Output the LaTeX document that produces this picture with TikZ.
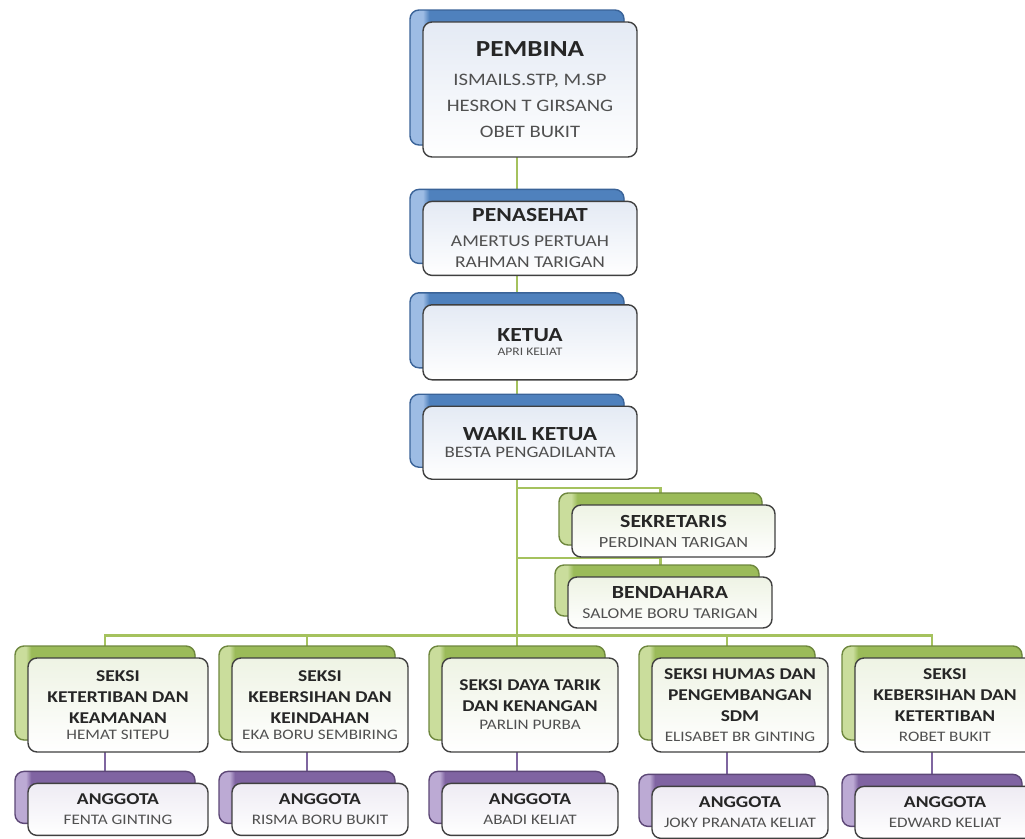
\documentclass[tikz,border=0pt]{standalone}
\usepackage{fontspec}
\setmainfont[FakeStretch=1.18]{Carlito}
\usepackage{xcolor}
\usepackage{tikz}
\usetikzlibrary{shapes, positioning, shadows, backgrounds, calc}

\definecolor{blueback}{HTML}{4F81BD}
\definecolor{bluelite}{HTML}{9DBCE4}
\definecolor{blueedge}{HTML}{3A6398}
\definecolor{greenback}{HTML}{9BBB59}
\definecolor{greenlite}{HTML}{CADD9C}
\definecolor{greenedge}{HTML}{6E873E}
\definecolor{purpleback}{HTML}{8064A2}
\definecolor{purplelite}{HTML}{BCAAD4}
\definecolor{purpleedge}{HTML}{5C4776}
\definecolor{frontblue}{HTML}{E4EAF4}
\definecolor{frontgreen}{HTML}{EEF3E4}
\definecolor{frontpurple}{HTML}{EEEBF3}
\definecolor{boxline}{HTML}{404040}
\definecolor{titlegray}{HTML}{262626}
\definecolor{namegray}{HTML}{505050}
\definecolor{linkgreen}{HTML}{A5C25E}
\definecolor{linkpurple}{HTML}{7F66A0}

\pgfdeclarehorizontalshading{blueside}{100bp}{color(0bp)=(bluelite); color(28bp)=(bluelite); color(29.5bp)=(blueback); color(100bp)=(blueback)}
\pgfdeclarehorizontalshading{greenside}{100bp}{color(0bp)=(greenlite); color(28bp)=(greenlite); color(29.5bp)=(greenback); color(100bp)=(greenback)}
\pgfdeclarehorizontalshading{purpleside}{100bp}{color(0bp)=(purplelite); color(28bp)=(purplelite); color(29.5bp)=(purpleback); color(100bp)=(purpleback)}

\newcommand{\headbig}{\fontsize{23}{28}\selectfont\bfseries\color{titlegray}}
\newcommand{\headtop}{\fontsize{20}{24}\selectfont\bfseries\color{titlegray}}
\newcommand{\headmid}{\fontsize{18.5}{22}\selectfont\bfseries\color{titlegray}}
\newcommand{\headlow}{\fontsize{16.5}{21}\selectfont\bfseries\color{titlegray}}

\tikzset{
    orgbox/.style={draw=boxline, line width=1.4pt, rounded corners=9pt, inner sep=0pt, align=center, text=namegray},
    bluebox/.style={orgbox, top color=frontblue, bottom color=white, minimum width=214pt,
        copy shadow={shadow xshift=-13pt, shadow yshift=12pt, shade, shading=blueside, draw=blueedge}},
    greenbox/.style={orgbox, top color=frontgreen, bottom color=white,
        copy shadow={shadow xshift=-13pt, shadow yshift=12pt, shade, shading=greenside, draw=greenedge}},
    purplebox/.style={orgbox, top color=frontpurple, bottom color=white,
        copy shadow={shadow xshift=-13pt, shadow yshift=12pt, shade, shading=purpleside, draw=purpleedge}},
    link/.style={draw=linkgreen, line width=2.4pt},
    sublink/.style={draw=linkpurple, line width=2.4pt}
}

\begin{document}
\begin{tikzpicture}[x=1pt, y=-1pt]
    \useasboundingbox (0,0) rectangle (1025,838);

    % top column
    \node [bluebox, minimum height=135pt, font=\fontsize{17.5}{26}\selectfont] (pembina) at (530,89.5)
        {{\headbig PEMBINA}\\[3pt] ISMAILS.STP, M.SP\\ HESRON T GIRSANG\\ OBET BUKIT};
    \node [bluebox, minimum height=74pt, below=43pt of pembina, font=\fontsize{16.5}{21}\selectfont] (penasehat)
        {{\headtop PENASEHAT}\\[4pt] AMERTUS PERTUAH\\ RAHMAN TARIGAN};
    \node [bluebox, minimum height=75pt, below=28pt of penasehat, font=\fontsize{11.5}{14}\selectfont] (ketua)
        {{\headtop KETUA}\\ APRI KELIAT};
    \node [bluebox, minimum height=73pt, below=25pt of ketua, font=\fontsize{16}{17}\selectfont] (wakil)
        {{\headtop WAKIL KETUA}\\ BESTA PENGADILANTA};

    % assistants
    \node [greenbox, minimum width=203pt, minimum height=52pt, font=\fontsize{15.5}{20}\selectfont] (sek) at (673.5,531)
        {{\headmid SEKRETARIS}\\ PERDINAN TARIGAN};
    \node [greenbox, minimum width=204pt, minimum height=51pt, font=\fontsize{15}{20}\selectfont] (bend) at (670,602.5)
        {{\headmid BENDAHARA}\\ SALOME BORU TARIGAN};

    % seksi
    \node [greenbox, minimum width=180pt, minimum height=94pt, font=\fontsize{14.5}{21}\selectfont] (s1) at (118,705)
        {{\headlow SEKSI}\\ {\headlow KETERTIBAN DAN}\\ {\headlow KEAMANAN}\\[-5pt] HEMAT SITEPU};
    \node [greenbox, minimum width=176pt, minimum height=94pt, font=\fontsize{14.5}{21}\selectfont] (s2) at (320,705)
        {{\headlow SEKSI}\\ {\headlow KEBERSIHAN DAN}\\ {\headlow KEINDAHAN}\\[-5pt] EKA BORU SEMBIRING};
    \node [greenbox, minimum width=176pt, minimum height=94pt, font=\fontsize{14.5}{21}\selectfont] (s3) at (530,705)
        {{\headlow SEKSI DAYA TARIK}\\ {\headlow DAN KENANGAN}\\[-3pt] PARLIN PURBA};
    \node [greenbox, minimum width=176pt, minimum height=94pt, font=\fontsize{14.5}{21}\selectfont] (s4) at (740,705)
        {{\headlow SEKSI HUMAS DAN}\\ {\headlow PENGEMBANGAN}\\ {\headlow SDM}\\[-1pt] ELISABET BR GINTING};
    \node [greenbox, minimum width=180pt, minimum height=94pt, font=\fontsize{14.5}{21}\selectfont] (s5) at (945,705)
        {{\headlow SEKSI}\\ {\headlow KEBERSIHAN DAN}\\ {\headlow KETERTIBAN}\\[-1pt] ROBET BUKIT};

    % anggota
    \node [purplebox, minimum width=180pt, minimum height=52pt, below=30pt of s1, font=\fontsize{14.5}{20}\selectfont] (a1)
        {{\headlow ANGGOTA}\\ FENTA GINTING};
    \node [purplebox, minimum width=176pt, minimum height=52pt, below=30pt of s2, font=\fontsize{14.5}{20}\selectfont] (a2)
        {{\headlow ANGGOTA}\\ RISMA BORU BUKIT};
    \node [purplebox, minimum width=176pt, minimum height=52pt, below=30pt of s3, font=\fontsize{14.5}{20}\selectfont] (a3)
        {{\headlow ANGGOTA}\\ ABADI KELIAT};
    \node [purplebox, minimum width=176pt, minimum height=52pt, below=33pt of s4, font=\fontsize{14.5}{20}\selectfont] (a4)
        {{\headlow ANGGOTA}\\ JOKY PRANATA KELIAT};
    \node [purplebox, minimum width=180pt, minimum height=52pt, below=33pt of s5, font=\fontsize{14.5}{20}\selectfont] (a5)
        {{\headlow ANGGOTA}\\ EDWARD KELIAT};

    \coordinate (trunk) at ($(wakil.center)+(-13,0)$);
    \coordinate (bus) at ($(s3.north)+(-13,-22)$);

    \begin{scope}[on background layer]
        \draw [link] (trunk |- pembina.center) -- (trunk |- s3.center);
        \draw [link] ($(s1.center)+(-13,0)$) |- (bus) -| ($(s5.center)+(-13,0)$);
        \foreach \n in {s2, s4} {
            \draw [link] ($(\n.center)+(-13,0)$) |- (bus);
        }
        \draw [link] (trunk |- wakil.south) ++(0,8) -| ($(sek.south)+(-13,14)$);
        \draw [link] (trunk |- sek.south) -- ($(sek.south)+(-13,0)$);
        \foreach \n in {1,...,5} {
            \draw [sublink] ($(s\n.center)+(-13,0)$) -- ($(a\n.center)+(-13,0)$);
        }
    \end{scope}
\end{tikzpicture}
\end{document}
